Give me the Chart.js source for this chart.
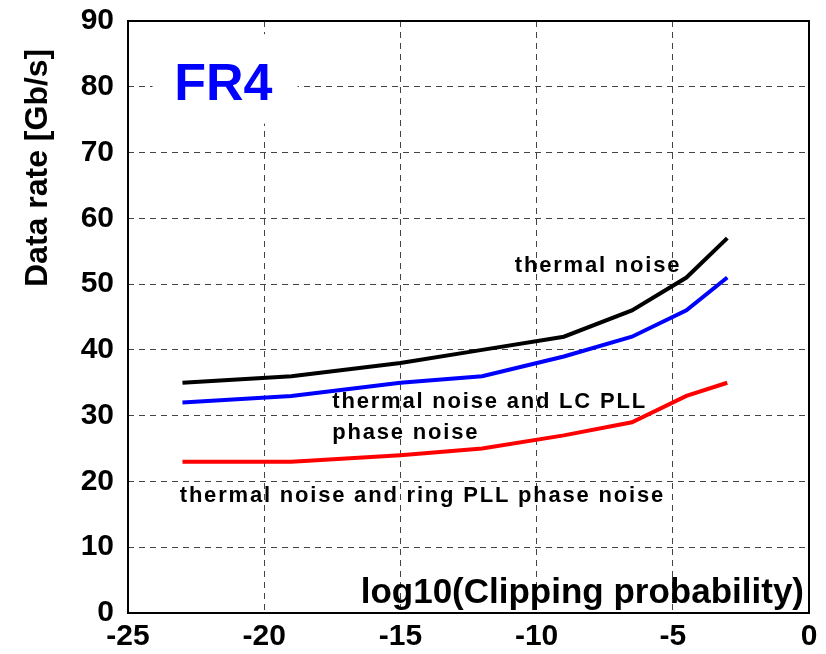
<!DOCTYPE html>
<html>
<head>
<meta charset="utf-8">
<script src="https://cdn.jsdelivr.net/npm/chart.js@4/dist/chart.umd.min.js"></script>
<style>
  html, body { margin: 0; padding: 0; background: #fff; }
  #wrap { width: 826px; height: 654px; }
</style>
</head>
<body>
<div id="wrap"><canvas id="c" width="826" height="654"></canvas></div>
<script>
// log10 of the clipping probability
const clipLog = [-23, -19, -15, -12, -9, -6.5, -4.5, -3];
// achievable data rate in Gb/s for each noise case
const rateThermal = [35, 36, 38, 40, 42, 46, 51, 57];
const rateLcPll   = [32, 33, 35, 36, 39, 42, 46, 51];
const rateRingPll = [23, 23, 24, 25, 27, 29, 33, 35];

const xTicks = [-25, -20, -15, -10, -5, 0];
const yTicks = [0, 10, 20, 30, 40, 50, 60, 70, 80, 90];

const FONT = '"Liberation Sans", Arial, sans-serif';

function pts(ys) { return clipLog.map((x, i) => ({ x: x, y: ys[i] })); }

// curve labels, anchored at their left baseline in data coordinates
const labels = [
  { text: 'thermal noise', x: -10.8, y: 51.8 },
  { text: 'thermal noise and LC PLL', x: -17.5, y: 31.2 },
  { text: 'phase noise', x: -17.5, y: 26.4 },
  { text: 'thermal noise and ring PLL phase noise', x: -23.1, y: 16.9 }
];

const annotate = {
  id: 'annotate',
  afterDatasetsDraw(chart) {
    const { ctx, chartArea: a, scales: { x, y } } = chart;
    ctx.save();
    ctx.fillStyle = '#000';
    ctx.textBaseline = 'alphabetic';
    ctx.textAlign = 'left';
    ctx.font = 'bold 22px ' + FONT;
    ctx.letterSpacing = '1.8px';
    labels.forEach(l => ctx.fillText(l.text, x.getPixelForValue(l.x), y.getPixelForValue(l.y)));
    ctx.letterSpacing = '0px';

    // panel tag on a white box
    const bx = x.getPixelForValue(-24.1), by = y.getPixelForValue(88.0);
    ctx.fillStyle = '#fff';
    ctx.fillRect(bx, by, 145, y.getPixelForValue(74.4) - by);
    ctx.fillStyle = '#0000ff';
    ctx.font = 'bold 52px ' + FONT;
    ctx.fillText('FR4', x.getPixelForValue(-23.3), y.getPixelForValue(78.0));

    // x-axis title placed inside the plot
    ctx.fillStyle = '#000';
    ctx.font = 'bold 35px ' + FONT;
    ctx.textAlign = 'right';
    ctx.fillText('log10(Clipping probability)', a.right - 5, y.getPixelForValue(1.5));

    // box around the plot area
    ctx.strokeStyle = '#000';
    ctx.lineWidth = 2;
    ctx.strokeRect(a.left, a.top, a.right - a.left, a.bottom - a.top);

    // y-axis title
    ctx.translate(47, 287);
    ctx.rotate(-Math.PI / 2);
    ctx.textAlign = 'left';
    ctx.font = 'bold 32px ' + FONT;
    ctx.fillText('Data rate [Gb/s]', 0, 0);
    ctx.restore();
  }
};

new Chart(document.getElementById('c'), {
  type: 'scatter',
  data: {
    datasets: [
      { label: 'thermal noise', data: pts(rateThermal), borderColor: '#000000' },
      { label: 'thermal noise and LC PLL phase noise', data: pts(rateLcPll), borderColor: '#0000ff' },
      { label: 'thermal noise and ring PLL phase noise', data: pts(rateRingPll), borderColor: '#ff0000' }
    ].map(d => Object.assign(d, { showLine: true, pointRadius: 0, borderWidth: 4, tension: 0, fill: false }))
  },
  options: {
    responsive: false,
    animation: false,
    layout: { padding: { top: 21, right: 17, left: 0, bottom: 0 } },
    plugins: { legend: { display: false }, tooltip: { enabled: false } },
    scales: {
      x: {
        type: 'linear', min: -25, max: 0,
        afterBuildTicks(s) { s.ticks = xTicks.map(v => ({ value: v })); },
        afterFit(s) { s.height = 41; },
        border: { display: false, dash: [6, 5] },
        grid: { color: '#444', lineWidth: 1, drawTicks: false },
        ticks: { color: '#000', padding: 6, font: { family: FONT, size: 30, weight: 'bold' }, maxRotation: 0 }
      },
      y: {
        type: 'linear', min: 0, max: 90,
        afterBuildTicks(s) { s.ticks = yTicks.map(v => ({ value: v })); },
        afterFit(s) { s.width = 128; s.paddingTop = 0; s.paddingBottom = 0; },
        border: { display: false, dash: [6, 5] },
        grid: { color: '#444', lineWidth: 1, drawTicks: false },
        ticks: { color: '#000', padding: 14, font: { family: FONT, size: 30, weight: 'bold' } }
      }
    }
  },
  plugins: [annotate]
});
</script>
</body>
</html>
